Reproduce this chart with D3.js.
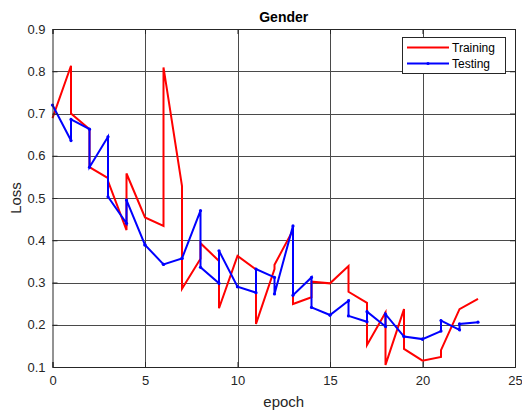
<!DOCTYPE html>
<html>
<head>
<meta charset="utf-8">
<script src="https://cdn.jsdelivr.net/npm/d3@7"></script>
<style>
  html, body { margin: 0; padding: 0; background: #fff; }
  svg { display: block; font-family: "Liberation Sans", Arial, sans-serif; }
</style>
</head>
<body>
<svg id="chart" width="522" height="412"></svg>
<script>
// Epoch positions: each inner epoch carries two readings (end of one pass, start of the next)
const epochs = [0, 1, 1, 2, 2, 3, 3, 4, 4, 5, 5, 6, 6, 7, 7, 8, 8, 9, 9, 10, 10,
  11, 11, 12, 12, 13, 13, 14, 14, 15, 15, 16, 16, 17, 17, 18, 18, 19, 19, 20, 20,
  21, 21, 22, 22, 23];

const trainingLoss = [0.689, 0.813, 0.700, 0.663, 0.573, 0.547, 0.540, 0.424, 0.558,
  0.454, 0.454, 0.434, 0.809, 0.528, 0.285, 0.356, 0.393, 0.351, 0.239, 0.363, 0.363,
  0.331, 0.202, 0.332, 0.342, 0.424, 0.249, 0.265, 0.302, 0.298, 0.298, 0.339, 0.278,
  0.252, 0.152, 0.229, 0.105, 0.237, 0.143, 0.115, 0.115, 0.124, 0.140, 0.237, 0.237,
  0.261];

const testingLoss = [0.720, 0.636, 0.686, 0.663, 0.573, 0.645, 0.503, 0.440, 0.495,
  0.389, 0.389, 0.343, 0.343, 0.357, 0.357, 0.470, 0.336, 0.298, 0.375, 0.290, 0.290,
  0.276, 0.332, 0.312, 0.273, 0.434, 0.270, 0.312, 0.241, 0.223, 0.223, 0.257, 0.221,
  0.207, 0.231, 0.196, 0.225, 0.172, 0.172, 0.166, 0.166, 0.185, 0.210, 0.188, 0.202,
  0.206];

const xTicks = [0, 5, 10, 15, 20, 25];
const yTicks = [0.1, 0.2, 0.3, 0.4, 0.5, 0.6, 0.7, 0.8, 0.9];
const seriesNames = ["Training", "Testing"];
const seriesColors = ["#ff0000", "#0000ff"];

const svg = d3.select("#chart");
const plotLeft = 52.5, plotTop = 29, plotRight = 515, plotBottom = 367;

const x = d3.scaleLinear().domain([0, 25]).range([plotLeft, plotRight]);
const y = d3.scaleLinear().domain([0.1, 0.9]).range([plotBottom, plotTop]);

const axisColor = "#262626";
const gridColor = "#4a4a4a";

// Grid
const grid = svg.append("g");
grid.selectAll(".gx").data(xTicks.slice(1, -1)).join("line")
  .attr("x1", d => Math.round(x(d)) + 0.5).attr("x2", d => Math.round(x(d)) + 0.5)
  .attr("y1", plotTop).attr("y2", plotBottom)
  .attr("stroke", gridColor).attr("stroke-width", 1);
grid.selectAll(".gy").data(yTicks.slice(1, -1)).join("line")
  .attr("y1", d => Math.round(y(d)) + 0.5).attr("y2", d => Math.round(y(d)) + 0.5)
  .attr("x1", plotLeft).attr("x2", plotRight)
  .attr("stroke", gridColor).attr("stroke-width", 1);

// Axes (ticks point inward, box on all sides)
const tickLen = 5;
const xAxisB = d3.axisBottom(x).tickValues(xTicks).tickSize(-tickLen).tickPadding(9)
  .tickFormat(d3.format("d"));
const xAxisT = d3.axisTop(x).tickValues(xTicks).tickSize(-tickLen).tickFormat("");
const yAxisL = d3.axisLeft(y).tickValues(yTicks).tickSize(-tickLen).tickPadding(7)
  .tickFormat(d3.format(".1f"));
const yAxisR = d3.axisRight(y).tickValues(yTicks).tickSize(-tickLen).tickFormat("");

function styleAxis(g) {
  g.select(".domain").attr("stroke", axisColor).attr("stroke-width", 1);
  g.selectAll(".tick line").attr("stroke", axisColor);
  g.selectAll(".tick text").attr("fill", axisColor)
    .style("font-size", "13px").style("font-family", "Liberation Sans, Arial, sans-serif");
}

// Data lines
const line = d3.line().x((d, i) => x(epochs[i])).y(d => y(d));
[trainingLoss, testingLoss].forEach((vals, k) => {
  svg.append("path").datum(vals)
    .attr("fill", "none")
    .attr("stroke", seriesColors[k])
    .attr("stroke-width", 2)
    .attr("stroke-linejoin", "miter")
    .attr("d", line);
});
// Point markers on the testing series
svg.append("g").selectAll("circle").data(testingLoss).join("circle")
  .attr("cx", (d, i) => x(epochs[i])).attr("cy", d => y(d))
  .attr("r", 1.6).attr("fill", seriesColors[1]);

svg.append("g").attr("transform", `translate(0,${plotBottom})`).call(xAxisB).call(styleAxis);
svg.append("g").attr("transform", `translate(0,${plotTop})`).call(xAxisT).call(styleAxis);
svg.append("g").attr("transform", `translate(${plotLeft},0)`).call(yAxisL).call(styleAxis);
svg.append("g").attr("transform", `translate(${plotRight},0)`).call(yAxisR).call(styleAxis);

// Title and axis labels
svg.append("text").attr("x", (plotLeft + plotRight) / 2).attr("y", 22)
  .attr("text-anchor", "middle").attr("fill", "#000")
  .style("font-size", "14px").style("font-weight", "bold").text("Gender");
svg.append("text").attr("x", (plotLeft + plotRight) / 2).attr("y", 407)
  .attr("text-anchor", "middle").attr("fill", axisColor)
  .style("font-size", "15px").text("epoch");
svg.append("text")
  .attr("transform", `translate(21,${(plotTop + plotBottom) / 2}) rotate(-90)`)
  .attr("text-anchor", "middle").attr("fill", axisColor)
  .style("font-size", "15px").text("Loss");

// Legend
const lg = svg.append("g");
lg.append("rect").attr("x", 402.5).attr("y", 37.5).attr("width", 103).attr("height", 36)
  .attr("fill", "#fff").attr("stroke", axisColor).attr("stroke-width", 1);
seriesNames.forEach((name, k) => {
  const ly = 47.5 + k * 16;
  lg.append("line").attr("x1", 407).attr("x2", 449).attr("y1", ly).attr("y2", ly)
    .attr("stroke", seriesColors[k]).attr("stroke-width", 2);
  if (k === 1) {
    lg.append("circle").attr("cx", 428).attr("cy", ly).attr("r", 1.6).attr("fill", seriesColors[k]);
  }
  lg.append("text").attr("x", 452).attr("y", ly + 4.5).attr("fill", "#000")
    .style("font-size", "12px").text(name);
});
</script>
</body>
</html>
